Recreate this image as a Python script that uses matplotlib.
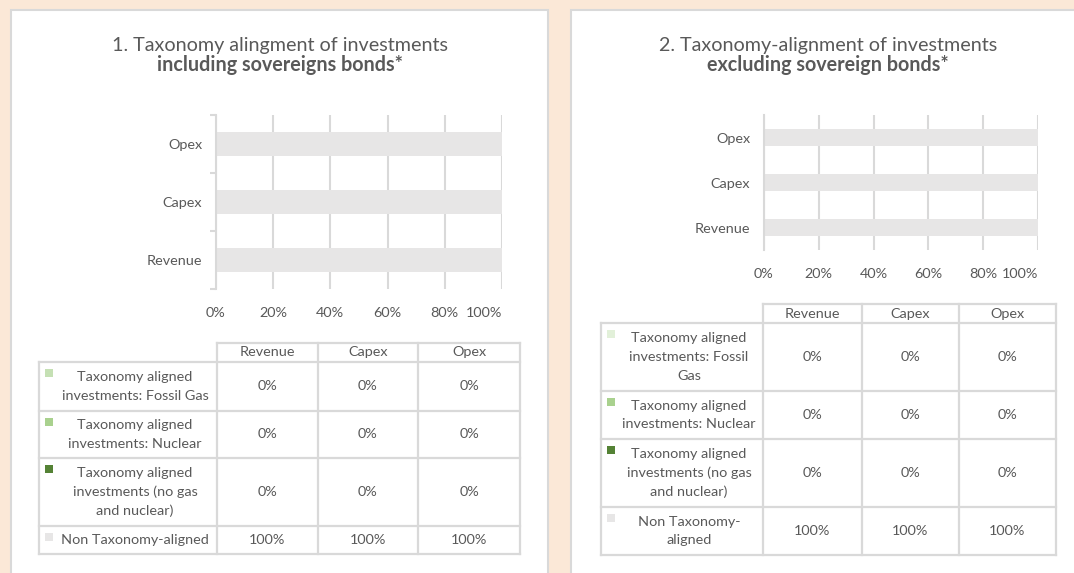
import numpy as np
import matplotlib.pyplot as plt
from matplotlib.patches import Rectangle

plt.rcParams['font.family'] = ['Lato', 'DejaVu Sans']

W, H = 1074, 573

# data
categories = ["Revenue", "Capex", "Opex"]
fossil_gas_incl = [0, 0, 0]
nuclear_incl = [0, 0, 0]
no_gas_nuclear_incl = [0, 0, 0]
non_aligned_incl = [100, 100, 100]
fossil_gas_excl = [0, 0, 0]
nuclear_excl = [0, 0, 0]
no_gas_nuclear_excl = [0, 0, 0]
non_aligned_excl = [100, 100, 100]

labels_incl = ["Taxonomy aligned\ninvestments: Fossil Gas",
               "Taxonomy aligned\ninvestments: Nuclear",
               "Taxonomy aligned\ninvestments (no gas\nand nuclear)",
               "Non Taxonomy-aligned"]
labels_excl = ["Taxonomy aligned\ninvestments: Fossil\nGas",
               "Taxonomy aligned\ninvestments: Nuclear",
               "Taxonomy aligned\ninvestments (no gas\nand nuclear)",
               "Non Taxonomy-\naligned"]
colors_incl = ["#C5E0B4", "#A9D18E", "#548235", "#E7E6E6"]
colors_excl = ["#E2F0D9", "#A9D18E", "#548235", "#E7E6E6"]
xticks = [0, 20, 40, 60, 80, 100]
xtick_labels = ["0%", "20%", "40%", "60%", "80%", "100%"]

TXT = "#595959"
GRID = "#D9D9D9"
FS = 10.4


def frac(x0, y0, x1, y1):
    return [x0 / W, 1 - y1 / H, (x1 - x0) / W, (y1 - y0) / H]


fig = plt.figure(figsize=(W / 100, H / 100), dpi=100, facecolor="#FBE8D7")
bg = fig.add_axes([0, 0, 1, 1])
bg.set_xlim(0, W)
bg.set_ylim(H, 0)
bg.axis("off")

# white panels
for x0, x1 in [(11, 548), (571, 1090)]:
    bg.add_patch(Rectangle((x0, 10), x1 - x0, H + 20, facecolor="white",
                           edgecolor=GRID, lw=1.5))


def bar_chart(rect, series, colors, height, spine_ticks):
    ax = fig.add_axes(frac(*rect))
    y = np.arange(len(categories))
    left = np.zeros(len(categories))
    for vals, c in zip(series, colors):
        v = np.array(vals) / 100
        ax.barh(y, v, left=left, height=height, color=c, zorder=2)
        left += v
    ax.set_xlim(0, 1)
    ax.set_ylim(-0.5, len(categories) - 0.5)
    ax.set_xticks(np.array(xticks) / 100)
    ax.set_xticklabels(xtick_labels)
    ax.get_xticklabels()[-1].set_ha("right")
    ax.set_yticks(y)
    ax.set_yticklabels(categories)
    ax.grid(axis="x", color=GRID, lw=1.5, zorder=0)
    for s in ["top", "right", "bottom"]:
        ax.spines[s].set_visible(False)
    ax.spines["left"].set_color(GRID)
    ax.spines["left"].set_linewidth(1.5)
    ax.tick_params(axis="x", length=0, pad=13, labelsize=FS, labelcolor=TXT)
    ax.tick_params(axis="y", which="major", length=0, pad=10, labelsize=FS,
                   labelcolor=TXT)
    if spine_ticks:
        ax.set_yticks(np.arange(-0.5, len(categories)), minor=True)
        ax.tick_params(axis="y", which="minor", length=4, color=GRID, width=1.5)
    return ax


def table(cols, rows, labels, colors, series, fs=FS):
    lbl_left, c1, c2, c3, c4 = cols
    top, hb = rows[0], rows[1]
    kw = dict(color=GRID, lw=1.6, solid_capstyle="projecting")
    bg.plot([c1, c4], [top, top], **kw)
    for x in [c1, c2, c3, c4]:
        bg.plot([x, x], [top, rows[-1]], **kw)
    bg.plot([lbl_left, lbl_left], [hb, rows[-1]], **kw)
    for yy in rows[1:]:
        bg.plot([lbl_left, c4], [yy, yy], **kw)
    centers = [(c1 + c2) / 2, (c2 + c3) / 2, (c3 + c4) / 2]
    for cx, cat in zip(centers, categories):
        bg.text(cx, (top + hb) / 2, cat, ha="center", va="center",
                fontsize=fs, color=TXT)
    for i, (lab, col, vals) in enumerate(zip(labels, colors, series)):
        r0, r1 = rows[i + 1], rows[i + 2]
        bg.add_patch(Rectangle((lbl_left + 6, r0 + 7), 8, 8, facecolor=col,
                               edgecolor="none"))
        bg.text((lbl_left + 14 + c1) / 2, (r0 + r1) / 2, lab, ha="center",
                va="center", multialignment="center", fontsize=fs, color=TXT,
                linespacing=1.65)
        for cx, v in zip(centers, vals):
            bg.text(cx, (r0 + r1) / 2, f"{v}%", ha="center", va="center",
                    fontsize=fs, color=TXT)


# left panel
bg.text(280, 45, "1. Taxonomy alingment of investments", ha="center",
        va="center", fontsize=14.2, color=TXT)
bg.text(280, 65, "including sovereigns bonds*", ha="center", va="center",
        fontsize=14.2, color=TXT, fontweight="bold")
series_incl = [fossil_gas_incl, nuclear_incl, no_gas_nuclear_incl, non_aligned_incl]
bar_chart((216, 115, 502, 289), series_incl, colors_incl, 0.4, True)
table([39, 217, 318, 418, 520], [343, 362, 411, 458, 526, 554],
      labels_incl, colors_incl, series_incl)

# right panel
bg.text(828, 45, "2. Taxonomy-alignment of investments", ha="center",
        va="center", fontsize=14.2, color=TXT)
bg.text(828, 65, "excluding sovereign bonds*", ha="center", va="center",
        fontsize=14.2, color=TXT, fontweight="bold")
series_excl = [fossil_gas_excl, nuclear_excl, no_gas_nuclear_excl, non_aligned_excl]
bar_chart((764, 115, 1038, 250), series_excl, colors_excl, 0.38, False)
table([601, 763, 862, 959, 1056], [304, 323, 391, 439, 507, 555],
      labels_excl, colors_excl, series_excl)

fig.savefig("out.png", dpi=100, facecolor=fig.get_facecolor())
